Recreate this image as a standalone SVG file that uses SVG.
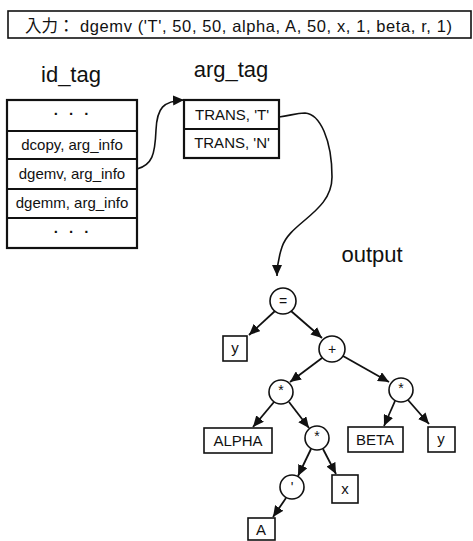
<svg xmlns="http://www.w3.org/2000/svg" width="473" height="541" viewBox="0 0 473 541">
<style>
text{font-family:"Liberation Sans",Arial,"Noto Sans CJK JP",sans-serif;fill:#111}
.title{font-size:22px;text-anchor:middle}
.cell{font-size:15px;text-anchor:middle}
.dots{font-size:15px;text-anchor:middle;font-weight:bold;letter-spacing:3px}
.tbl{fill:#fff;stroke:#111;stroke-width:2.2}
.box{fill:#fff;stroke:#111;stroke-width:1.6}
.node{fill:#fff;stroke:#111;stroke-width:1.6}
.op{font-size:14px;text-anchor:middle}
.lbl{font-size:15px;text-anchor:middle}
.edge{fill:none;stroke:#111;stroke-width:1.8}
.curve{fill:none;stroke:#111;stroke-width:1.6}
</style>
<defs>
<marker id="ah" markerUnits="userSpaceOnUse" markerWidth="12" markerHeight="10" refX="11" refY="5" orient="auto">
<path d="M0,0 L11,5 L0,10 Z" fill="#111"/>
</marker>
</defs>
<rect width="473" height="541" fill="#fff"/>

<g id="input">
<rect x="8" y="11" width="463" height="27" fill="#fff" stroke="#111" stroke-width="1.6"/>
<text y="32" font-size="16.5"><tspan x="25" font-family="'Noto Sans CJK JP','Liberation Sans',sans-serif">入力：</tspan><tspan x="80" textLength="372" lengthAdjust="spacing">dgemv ('T', 50, 50, alpha, A, 50, x, 1, beta, r, 1)</tspan></text>
</g>

<g id="id_tag">
<text class="title" x="71" y="82">id_tag</text>
<rect class="tbl" x="7" y="100" width="130" height="148"/>
<line x1="7" y1="131" x2="137" y2="131" stroke="#111" stroke-width="2"/>
<line x1="7" y1="159" x2="137" y2="159" stroke="#111" stroke-width="2"/>
<line x1="7" y1="189" x2="137" y2="189" stroke="#111" stroke-width="2"/>
<line x1="7" y1="218" x2="137" y2="218" stroke="#111" stroke-width="2"/>
<text class="dots" x="73" y="119">· · ·</text>
<text class="cell" x="72" y="150">dcopy, arg_info</text>
<text class="cell" x="72" y="179">dgemv, arg_info</text>
<text class="cell" x="72" y="208">dgemm, arg_info</text>
<text class="dots" x="73" y="237">· · ·</text>
</g>

<g id="arg_tag">
<text class="title" x="231" y="77">arg_tag</text>
<rect class="tbl" x="184" y="100" width="95" height="58"/>
<line x1="184" y1="129" x2="279" y2="129" stroke="#111" stroke-width="2"/>
<text class="cell" x="232" y="120" font-size="14">TRANS, 'T'</text>
<text class="cell" x="232" y="148" font-size="14">TRANS, 'N'</text>
</g>

<g id="output_label">
<text class="title" x="372" y="262">output</text>
</g>

<g id="node_eq"><circle class="node" cx="283" cy="301" r="13"/><text class="op" x="283" y="306">=</text></g>
<g id="node_y1"><rect class="box" x="223" y="336" width="24" height="25"/><text class="lbl" x="235" y="353">y</text></g>
<g id="node_plus"><circle class="node" cx="332" cy="349" r="13"/><text class="op" x="332" y="354">+</text></g>
<g id="node_mul1"><circle class="node" cx="281" cy="392" r="12"/><text class="op" x="281" y="395" font-size="11">*</text></g>
<g id="node_mul2"><circle class="node" cx="401" cy="390" r="12"/><text class="op" x="401" y="393" font-size="11">*</text></g>
<g id="node_alpha"><rect class="box" x="204" y="428" width="68" height="25"/><text class="lbl" x="238" y="446">ALPHA</text></g>
<g id="node_mul3"><circle class="node" cx="317" cy="438" r="12"/><text class="op" x="317" y="441" font-size="11">*</text></g>
<g id="node_beta"><rect class="box" x="348" y="427" width="55" height="25"/><text class="lbl" x="375" y="445">BETA</text></g>
<g id="node_y2"><rect class="box" x="428" y="427" width="27" height="25"/><text class="lbl" x="441" y="444">y</text></g>
<g id="node_tr"><circle class="node" cx="292" cy="487" r="12"/><text class="op" x="292" y="492" font-size="12">'</text></g>
<g id="node_x"><rect class="box" x="332" y="475" width="26" height="28"/><text class="lbl" x="345" y="494">x</text></g>
<g id="node_A"><rect class="box" x="248" y="518" width="27" height="22"/><text class="lbl" x="261" y="535">A</text></g>

<g id="connectors">
<path class="curve" d="M137,169 C152,165 155,155 156,130 C157,108 163,101 184,100" marker-end="url(#ah)"/>
<path class="curve" d="M279,117 C290,116 295,113 305,113 C320,114 332,140 332,177 C332,212 290,222 282,247 C279,256 277,264 277,276" marker-end="url(#ah)"/>
<line class="edge" x1="275" y1="311" x2="249" y2="335" marker-end="url(#ah)"/>
<line class="edge" x1="291" y1="311" x2="322" y2="338" marker-end="url(#ah)"/>
<line class="edge" x1="322" y1="358" x2="290" y2="382" marker-end="url(#ah)"/>
<line class="edge" x1="343" y1="356" x2="389" y2="382" marker-end="url(#ah)"/>
<line class="edge" x1="274" y1="402" x2="253" y2="427" marker-end="url(#ah)"/>
<line class="edge" x1="289" y1="402" x2="309" y2="428" marker-end="url(#ah)"/>
<line class="edge" x1="395" y1="401" x2="384" y2="426" marker-end="url(#ah)"/>
<line class="edge" x1="408" y1="400" x2="429" y2="424" marker-end="url(#ah)"/>
<line class="edge" x1="311" y1="449" x2="298" y2="476" marker-end="url(#ah)"/>
<line class="edge" x1="323" y1="449" x2="336" y2="474" marker-end="url(#ah)"/>
<line class="edge" x1="286" y1="498" x2="273" y2="517" marker-end="url(#ah)"/>
</g>
</svg>
